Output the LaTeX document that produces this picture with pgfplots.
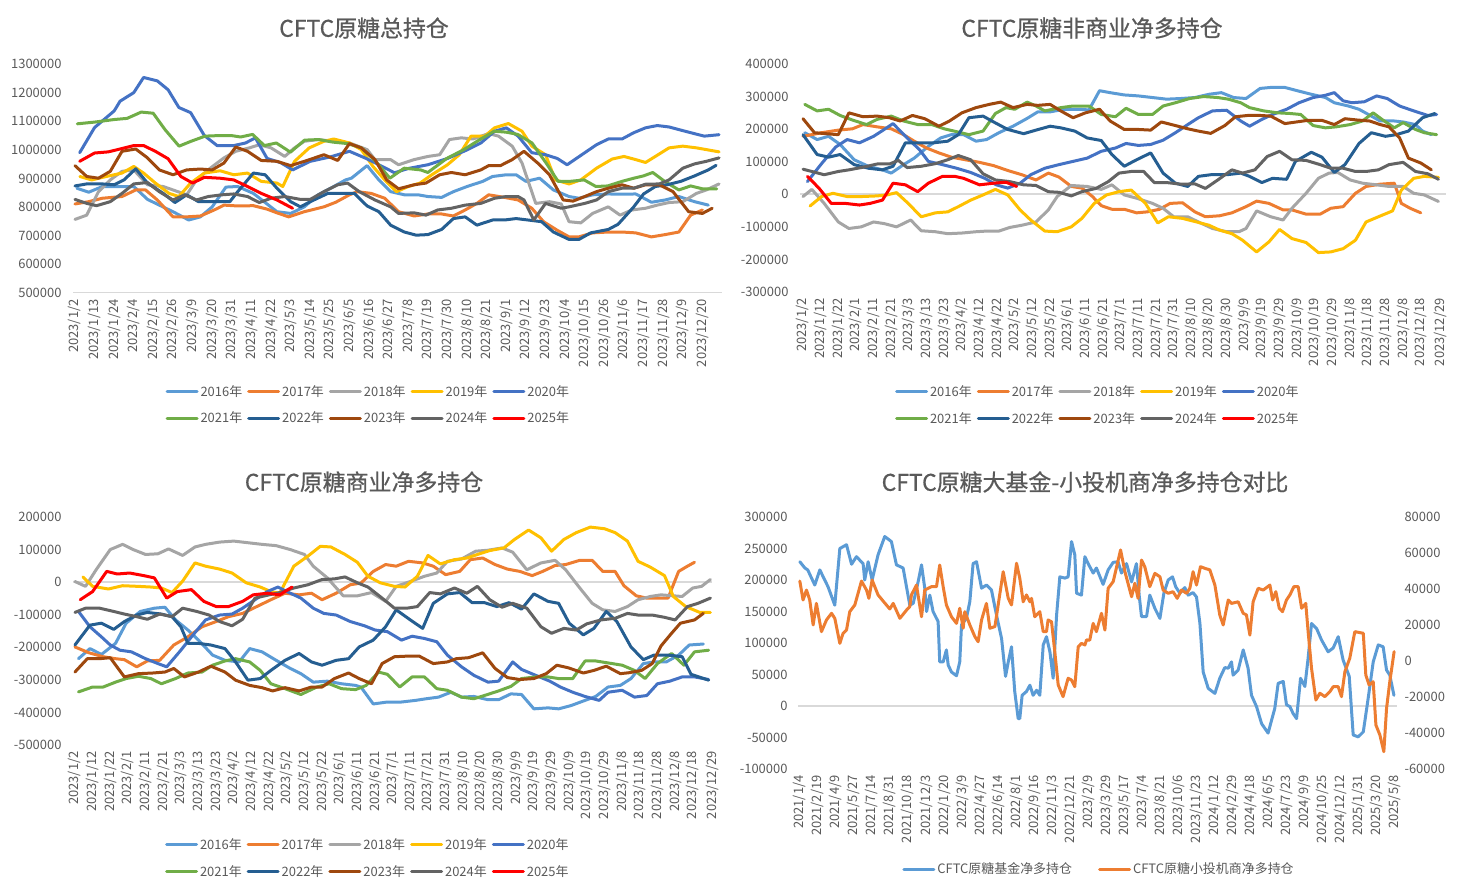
\documentclass[border=0pt]{standalone}
\usepackage{fontspec}
\setmainfont{Noto Sans CJK SC}
\newfontfamily\titlefont[FakeBold=0.6]{Noto Sans CJK SC}
\usepackage{pgfplots}
\pgfplotsset{compat=1.18}

\definecolor{c16}{HTML}{5B9BD5}
\definecolor{c17}{HTML}{ED7D31}
\definecolor{c18}{HTML}{A5A5A5}
\definecolor{c19}{HTML}{FFC000}
\definecolor{c20}{HTML}{4472C4}
\definecolor{c21}{HTML}{70AD47}
\definecolor{c22}{HTML}{255E91}
\definecolor{c23}{HTML}{9E480E}
\definecolor{c24}{HTML}{636363}
\definecolor{c25}{HTML}{FF0000}
\definecolor{txt}{HTML}{595959}
\definecolor{zl}{HTML}{D9D9D9}

\pgfplotsset{
  panel/.style={
    scale only axis,
    axis line style={draw=none},
    major tick length=0pt,
    tick style={draw=none},
    ticklabel style={font=\fontsize{13}{15}\selectfont, text=txt},
    /pgf/number format/assume math mode=true,
    xticklabel style={rotate=90, anchor=east},
    xticklabel shift=3bp,
    yticklabel shift=8bp,
    legend style={draw=none, fill=none, font=\fontsize{13}{15}\selectfont, text=txt,
      nodes={inner sep=2bp}, row sep=10bp,
      /tikz/every even column/.append style={column sep=3bp}},
    legend cell align=left,
    legend image code/.code={\draw[##1] (0bp,0bp) -- (30bp,0bp);},
    every axis plot/.append style={line width=3bp, line join=round, line cap=round, mark=none},
  },
  yr/.style={legend columns=5},
}

\begin{document}
\begin{tikzpicture}
\useasboundingbox (0,0) rectangle (1460bp,893bp);

\node[font=\titlefont\fontsize{23}{27}\selectfont, text=txt] at (364bp,865bp) {CFTC原糖总持仓};
\node[font=\titlefont\fontsize{23}{27}\selectfont, text=txt] at (1092bp,865bp) {CFTC原糖非商业净多持仓};
\node[font=\titlefont\fontsize{23}{27}\selectfont, text=txt] at (364bp,411bp) {CFTC原糖商业净多持仓};
\node[font=\titlefont\fontsize{23}{27}\selectfont, text=txt] at (1085bp,411bp) {CFTC原糖大基金-小投机商净多持仓对比};

% ---------- panel 1: total open interest ----------
\begin{axis}[panel, yr,
  at={(73bp,600bp)}, width=649bp, height=229bp,
  xmin=-0.1, xmax=33, ymin=500, ymax=1300,
  xtick={0,1,...,32},
  xticklabels={2023/1/2,2023/1/13,2023/1/24,2023/2/4,2023/2/15,2023/2/26,2023/3/9,2023/3/20,2023/3/31,2023/4/11,2023/4/22,2023/5/3,2023/5/14,2023/5/25,2023/6/5,2023/6/16,2023/6/27,2023/7/8,2023/7/19,2023/7/30,2023/8/10,2023/8/21,2023/9/1,2023/9/12,2023/9/23,2023/10/4,2023/10/15,2023/10/26,2023/11/6,2023/11/17,2023/11/28,2023/12/9,2023/12/20},
  ytick={500,600,...,1300},
  yticklabels={500000,600000,700000,800000,900000,1000000,1100000,1200000,1300000},
  legend style={at={(0.455,-0.489)}, anchor=center},
]
\draw[zl, line width=2bp] (axis cs:-0.1,500) -- (axis cs:33,500);
\addplot[c16] coordinates {(0.1,866)(0.7,852)(1.4,872)(2.3,872)(3,872)(3.7,827)(4.3,807)(5,784)(5.8,755)(6.4,766)(7,801)(7.7,870)(8.3,872)(9.1,848)(9.7,816)(10.3,784)(11,778)(11.7,801)(12.4,843)(13.2,872)(13.8,895)(14.1,901)(14.9,945)(15.5,895)(16.1,854)(16.8,843)(17.5,843)(18,837)(18.7,834)(19.3,854)(20,872)(20.8,890)(21.3,907)(22,913)(22.5,913)(23,890)(23.7,901)(24.4,860)(25.2,837)(25.7,831)(26.4,843)(27.2,846)(27.9,845)(28.6,846)(29.4,817)(30.1,825)(30.8,837)(31.6,819)(32.3,807)};
\addplot[c17] coordinates {(0,811)(0.7,819)(1.4,831)(2.4,837)(3.1,860)(3.6,860)(4.2,825)(5,766)(5.7,766)(6.4,769)(7.1,790)(7.6,807)(8.3,804)(9.1,805)(9.8,793)(10.3,780)(10.9,766)(11.7,784)(12.7,801)(13.3,817)(14,843)(14.4,854)(15.1,848)(15.8,831)(16.5,784)(17.3,769)(18,776)(18.7,776)(19.3,769)(19.9,790)(20.5,813)(21.1,843)(21.9,834)(22.6,825)(23.3,796)(23.9,749)(24.6,719)(25.2,696)(25.7,696)(26.4,710)(27.2,713)(27.9,713)(28.6,710)(29.4,696)(30.1,704)(30.8,713)(31.4,772)(32,790)};
\addplot[c18] coordinates {(0,757)(0.6,772)(1.2,854)(1.8,895)(2.4,925)(3,930)(3.7,878)(4.5,872)(5,860)(5.7,843)(6.2,895)(6.9,936)(7.6,972)(8.2,995)(8.9,1007)(9.4,1018)(10,1007)(10.7,977)(11.2,1007)(11.7,1030)(12.4,1036)(13.2,1030)(14,1024)(14.9,1001)(15.3,966)(16.1,966)(16.5,948)(17.3,966)(18,977)(18.6,983)(19.1,1036)(19.7,1042)(20.3,1038)(21.1,1057)(21.6,1048)(22.3,1013)(22.8,954)(23.5,813)(24.2,819)(24.8,811)(25.2,749)(25.8,745)(26.4,778)(27.2,801)(27.8,772)(28.4,790)(29.1,796)(29.7,807)(30.3,816)(31,819)(31.7,848)(32.2,860)(32.85,881)};
\addplot[c19] coordinates {(0.25,907)(0.85,895)(1.6,907)(2.4,919)(3,942)(3.5,919)(4.1,884)(4.8,848)(5.3,837)(5.9,884)(6.6,919)(7.4,927)(8.1,913)(8.8,919)(9.5,890)(10.3,884)(10.6,872)(11.2,960)(11.95,1007)(12.7,1030)(13.2,1038)(14,1024)(14.6,1001)(15.2,942)(15.8,895)(16.4,854)(17,872)(17.6,884)(18.2,913)(19,948)(19.6,983)(20.2,1048)(20.9,1048)(21.4,1077)(22.1,1092)(22.8,1065)(23.3,1013)(24,983)(24.5,895)(25.2,881)(25.8,895)(26.6,936)(27.4,968)(28,977)(28.6,966)(29.1,956)(29.6,977)(30.3,1007)(31,1013)(31.7,1007)(32.85,993)};
\addplot[c20] coordinates {(0.24,990)(1,1078)(2,1136)(2.3,1170)(3,1200)(3.5,1253)(4.2,1241)(4.75,1210)(5.3,1148)(5.9,1130)(6.6,1050)(7.25,1015)(8.1,1015)(8.7,1024)(9.2,1042)(9.8,970)(10.5,955)(11.1,930)(12,960)(13,975)(14,995)(14.85,970)(15.3,955)(16.3,920)(17,935)(18,948)(19,970)(20,1000)(20.7,1024)(21.4,1065)(22,1077)(22.6,1048)(23.3,990)(24,983)(24.6,970)(25.1,948)(26,990)(26.6,1018)(27.2,1038)(27.9,1038)(28.5,1060)(29.1,1077)(29.7,1085)(30.3,1080)(30.9,1069)(31.8,1053)(32.1,1048)(32.85,1053)};
\addplot[c21] coordinates {(0.12,1091)(1,1097)(2,1106)(2.66,1110)(3.38,1132)(3.99,1128)(4.59,1071)(5.31,1013)(5.92,1030)(6.64,1048)(7.37,1050)(7.97,1050)(8.45,1045)(9.06,1054)(9.66,1015)(10.27,1024)(10.99,992)(11.71,1034)(12.44,1036)(13.16,1027)(13.89,1022)(14.61,1007)(15.34,960)(16.06,901)(16.79,936)(17.63,930)(18,921)(18.96,970)(19.81,1000)(20.65,1036)(21.38,1065)(21.98,1062)(22.58,1054)(23.31,1024)(24.03,954)(24.64,890)(25.24,890)(25.97,895)(26.57,872)(27.17,874)(27.9,890)(28.5,901)(28.99,909)(29.47,921)(30.07,890)(30.8,860)(31.4,874)(32,864)(32.73,864)};
\addplot[c22] coordinates {(0,874)(0.6,881)(1.4,881)(2,878)(2.5,895)(3.1,934)(3.7,884)(4.5,848)(5.1,816)(5.7,843)(6.3,819)(7.1,819)(7.9,819)(8.3,854)(9.1,919)(9.7,913)(10.3,866)(11,819)(11.5,801)(12,819)(12.9,848)(13.9,848)(14.25,848)(14.9,804)(15.5,784)(16.1,737)(16.8,713)(17.4,702)(18,704)(18.7,722)(19.3,760)(19.9,766)(20.5,737)(21.3,755)(21.9,755)(22.5,760)(23.1,755)(23.8,749)(24.4,713)(25.2,687)(25.7,687)(26.3,710)(27.2,722)(27.7,740)(28.5,801)(29,846)(29.6,872)(30.2,878)(30.9,890)(31.6,909)(32.3,930)(32.7,946)};
\addplot[c23] coordinates {(0,945)(0.6,907)(1.2,901)(1.8,925)(2.4,995)(3.1,1003)(3.7,972)(4.3,930)(5,913)(5.7,930)(6.4,933)(7,930)(7.6,954)(8.2,1010)(8.8,995)(9.5,963)(10.3,960)(11,945)(11.7,960)(12.7,983)(13.4,963)(14,1022)(14.6,1007)(15.3,966)(15.9,895)(16.5,864)(17.3,878)(17.9,884)(18.6,913)(19.2,921)(19.9,913)(20.7,930)(21.1,945)(21.7,945)(22.3,966)(22.9,995)(23.6,954)(24.2,913)(24.9,825)(25.4,821)(26,837)(26.6,854)(27.2,866)(27.9,878)(28.5,866)(29.1,878)(29.8,878)(30.5,854)(31.3,784)(32,778)(32.5,796)};
\addplot[c24] coordinates {(0,827)(0.6,813)(1.1,805)(1.8,819)(2.4,848)(3,881)(3.7,886)(4.3,854)(5,825)(5.6,843)(6.2,825)(6.8,837)(7.5,843)(8.1,846)(8.8,837)(9.4,816)(10,831)(10.7,837)(11.5,827)(12,827)(12.7,854)(13.4,878)(13.9,884)(14.5,854)(15.3,825)(16.1,801)(16.5,778)(17.3,780)(17.9,772)(18.5,790)(19.2,796)(19.9,807)(20.7,813)(21.4,831)(22,837)(22.6,837)(22.9,825)(23.4,755)(24,813)(24.8,796)(25.2,801)(26,813)(26.6,825)(27.2,854)(27.9,866)(28.5,866)(29.1,880)(29.8,881)(30.3,895)(31,936)(31.6,951)(32.2,960)(32.85,972)};
\addplot[c25] coordinates {(0.24,960)(1,989)(1.7,993)(2.3,1003)(3,1015)(3.5,1015)(4.1,995)(4.75,969)(5.4,907)(6,884)(6.6,904)(7.4,901)(8.1,895)(8.8,872)(9.5,848)(10.3,825)(11.1,796)};
\legend{2016年,2017年,2018年,2019年,2020年,2021年,2022年,2023年,2024年,2025年}
\end{axis}

% ---------- panel 2: non-commercial net long ----------
\begin{axis}[panel, yr,
  at={(800bp,601bp)}, width=646bp, height=228bp,
  xmin=-0.17, xmax=36.43, ymin=-300, ymax=400,
  xtick={0,1,...,35,36.1},
  xticklabels={2023/1/2,2023/1/12,2023/1/22,2023/2/1,2023/2/11,2023/2/21,2023/3/3,2023/3/13,2023/3/23,2023/4/2,2023/4/12,2023/4/22,2023/5/2,2023/5/12,2023/5/22,2023/6/1,2023/6/11,2023/6/21,2023/7/1,2023/7/11,2023/7/21,2023/7/31,2023/8/10,2023/8/20,2023/8/30,2023/9/9,2023/9/19,2023/9/29,2023/10/9,2023/10/19,2023/10/29,2023/11/8,2023/11/18,2023/11/28,2023/12/8,2023/12/18,2023/12/29},
  ytick={-300,-200,...,400},
  yticklabels={-300000,-200000,-100000,0,100000,200000,300000,400000},
  legend style={at={(0.461,-0.496)}, anchor=center},
]
\draw[zl, line width=2bp] (axis cs:-0.17,0) -- (axis cs:36.43,0);
\addplot[c16] coordinates {(0.1,189)(0.8,168)(1.45,178)(2.1,153)(2.9,106)(3.7,86)(4.5,75)(5,65)(5.7,91)(6.3,111)(7.1,147)(7.8,173)(8.4,183)(9.1,183)(9.8,163)(10.4,168)(11.1,189)(11.9,209)(12.7,233)(13.3,253)(14,253)(14.8,261)(15.6,261)(16.2,259)(16.8,318)(17.4,312)(18.2,305)(19,302)(19.8,297)(20.6,292)(21.4,294)(22.2,297)(23,307)(23.7,312)(24.4,297)(25.1,294)(25.9,325)(26.5,328)(27.3,328)(28,318)(28.8,307)(29.6,297)(30.1,281)(30.9,271)(31.5,261)(32.2,240)(32.7,225)(33.5,225)(34,222)(34.7,214)(35.1,194)(35.6,183)};
\addplot[c17] coordinates {(0,178)(1.05,189)(2,197)(2.8,201)(3.4,214)(4.2,207)(5,201)(5.7,183)(6.3,163)(7,142)(7.7,127)(8.4,114)(9.2,106)(10,98)(10.8,88)(11.6,73)(12.4,60)(13.2,44)(13.9,65)(14.5,53)(15.2,24)(15.8,19)(16.4,-7)(16.9,-35)(17.5,-46)(18.2,-46)(18.9,-57)(19.5,-54)(20.2,-46)(20.8,-28)(21.5,-26)(22.2,-54)(22.8,-69)(23.6,-66)(24.3,-57)(25.1,-38)(25.7,-21)(26.4,-28)(27.2,-48)(27.7,-48)(28.5,-61)(29.3,-61)(29.9,-43)(30.6,-38)(31.3,3)(31.9,24)(32.7,31)(33.5,34)(33.9,-28)(34.4,-43)(35,-57)};
\addplot[c18] coordinates {(0,-7)(0.5,15)(1.2,-28)(2,-85)(2.6,-105)(3.3,-100)(4,-85)(4.6,-90)(5.3,-100)(6.1,-79)(6.7,-112)(7.5,-115)(8.2,-121)(9,-119)(9.8,-115)(10.4,-113)(11.1,-113)(11.7,-102)(12.4,-95)(13.2,-85)(13.9,-48)(14.4,-7)(15.2,27)(16.1,24)(16.9,15)(17.5,29)(18.2,-2)(18.9,-12)(19.8,-28)(20.4,-43)(21,-69)(21.8,-69)(22.4,-85)(23.2,-105)(24,-115)(24.7,-115)(25.1,-105)(25.7,-51)(26.5,-69)(27.2,-79)(27.7,-43)(28.5,3)(29.2,49)(29.8,65)(30.3,67)(31,44)(31.7,34)(32.5,29)(33.2,24)(34,24)(34.6,3)(35.2,-2)(36,-22)};
\addplot[c19] coordinates {(0.4,-36)(1.05,-7)(1.7,3)(2.5,-7)(3.3,-7)(4.2,-5)(4.75,-2)(5.3,5)(5.9,-25)(6.7,-69)(7.5,-57)(8.2,-54)(8.8,-38)(9.5,-18)(10.2,-2)(10.9,15)(11.6,-2)(12.3,-48)(12.9,-79)(13.7,-113)(14.4,-115)(15.2,-100)(15.8,-74)(16.5,-28)(17.2,-2)(17.9,8)(18.6,13)(19.4,-28)(20.1,-88)(20.7,-69)(21.5,-74)(22.3,-85)(23,-95)(23.6,-110)(24.3,-121)(24.9,-141)(25.7,-177)(26.4,-146)(27,-108)(27.7,-136)(28.5,-148)(29.2,-179)(29.9,-177)(30.6,-167)(31.3,-141)(31.9,-85)(32.6,-69)(33.4,-51)(33.9,13)(34.6,49)(35.2,55)(36,52)};
\addplot[c20] coordinates {(0.25,39)(1.05,94)(1.85,145)(2.5,168)(3.2,158)(4,178)(4.6,199)(5.1,217)(5.9,173)(6.6,137)(7.1,101)(7.9,91)(8.7,80)(9.5,67)(10.3,49)(10.95,29)(11.6,19)(12.3,34)(12.9,60)(13.7,80)(14.5,91)(15.3,101)(16.1,111)(16.9,132)(17.7,142)(18.3,156)(19,150)(19.7,153)(20.4,166)(21.1,189)(21.8,214)(22.4,235)(23.2,256)(24,258)(24.8,225)(25.3,209)(26,230)(26.6,245)(27.4,261)(28.1,281)(28.9,297)(29.6,304)(30.1,312)(30.6,287)(31.1,281)(31.8,284)(32.5,302)(33.1,294)(33.8,271)(34.6,256)(35.4,242)(35.9,245)};
\addplot[c21] coordinates {(0.1,276)(0.8,256)(1.45,261)(2.1,242)(2.8,228)(3.6,214)(4.2,230)(5,240)(5.7,225)(6.5,214)(7.3,214)(8,201)(8.8,191)(9.4,183)(10.2,194)(10.9,248)(11.5,266)(12,261)(12.7,283)(13.2,271)(13.7,256)(14.6,266)(15.3,271)(16.2,271)(16.9,245)(17.7,238)(18.3,264)(19,245)(19.8,245)(20.4,271)(21.1,281)(21.9,294)(22.7,300)(23.5,297)(24.1,292)(24.8,281)(25.3,266)(26.1,256)(26.9,250)(27.6,248)(28.2,245)(28.9,211)(29.6,204)(30.2,207)(31,214)(31.7,225)(32.3,250)(32.8,230)(33.5,204)(34,220)(34.7,199)(35.2,189)(35.9,183)};
\addplot[c22] coordinates {(0,183)(0.8,122)(1.45,114)(2.1,122)(2.9,91)(3.7,80)(4.5,75)(5.1,86)(5.8,158)(6.6,158)(7.4,158)(8.2,163)(8.8,183)(9.4,235)(10.2,240)(10.8,222)(11.6,199)(12.5,186)(13.2,197)(14,209)(14.6,204)(15.4,194)(16.1,173)(16.9,165)(17.5,122)(18.2,86)(18.9,106)(19.7,127)(20.4,65)(21.1,34)(21.8,24)(22.4,55)(23.1,60)(24,60)(24.8,65)(25.3,55)(26,36)(26.6,49)(27.4,46)(27.9,101)(28.8,129)(29.4,114)(30.1,67)(30.7,91)(31.5,156)(32.2,189)(33,178)(33.6,183)(34.3,194)(35.1,235)(35.8,248)};
\addplot[c23] coordinates {(0,232)(0.65,189)(1.3,186)(2,183)(2.6,250)(3.4,238)(4.2,240)(4.9,235)(5.5,225)(6.2,242)(6.9,232)(7.7,209)(8.3,225)(9,250)(9.8,266)(10.55,276)(11.2,283)(11.9,266)(12.7,276)(13.3,273)(14,276)(14.6,256)(15.3,235)(16,250)(16.8,261)(17.4,225)(18.2,199)(19,199)(19.7,197)(20.3,222)(21.1,211)(21.8,201)(22.4,194)(23.1,187)(23.9,211)(24.5,238)(25.2,242)(25.9,242)(26.5,240)(27.3,217)(27.95,222)(28.6,227)(29.4,227)(30.1,214)(30.7,232)(31.4,228)(32.1,225)(32.7,214)(33.2,207)(33.8,173)(34.3,111)(35,96)(35.6,75)};
\addplot[c24] coordinates {(0,77)(0.5,70)(1.2,60)(2,70)(2.6,75)(3.4,83)(4.2,93)(4.9,93)(5.4,104)(5.9,82)(6.7,86)(7.5,94)(8.2,106)(8.8,119)(9.5,106)(10.2,63)(10.9,44)(11.7,39)(12.5,29)(13.2,27)(13.9,8)(14.5,6)(15.2,-5)(15.8,8)(16.6,18)(17.3,39)(17.9,65)(18.6,70)(19.3,70)(19.9,36)(20.6,36)(21.4,31)(22.2,32)(22.8,18)(23.5,44)(24.3,75)(24.9,65)(25.6,75)(26.3,116)(27,132)(27.7,106)(28.5,104)(29.3,91)(29.9,80)(30.6,80)(31.3,70)(31.9,70)(32.6,75)(33.2,91)(34,98)(34.7,70)(35.4,63)(36,46)};
\addplot[c25] coordinates {(0.25,55)(0.9,19)(1.6,-28)(2.4,-28)(3.2,-33)(3.8,-28)(4.5,-18)(5.1,34)(5.8,29)(6.5,8)(7.1,34)(7.9,55)(8.6,55)(9.1,49)(10,29)(10.8,34)(11.5,37)(12.1,24)};
\legend{2016年,2017年,2018年,2019年,2020年,2021年,2022年,2023年,2024年,2025年}
\end{axis}

% ---------- panel 3: commercial net long ----------
\begin{axis}[panel, yr,
  at={(73bp,148bp)}, width=645bp, height=228bp,
  xmin=-0.11, xmax=36.43, ymin=-500, ymax=200,
  xtick={0,1,...,35,36.1},
  xticklabels={2023/1/2,2023/1/12,2023/1/22,2023/2/1,2023/2/11,2023/2/21,2023/3/3,2023/3/13,2023/3/23,2023/4/2,2023/4/12,2023/4/22,2023/5/2,2023/5/12,2023/5/22,2023/6/1,2023/6/11,2023/6/21,2023/7/1,2023/7/11,2023/7/21,2023/7/31,2023/8/10,2023/8/20,2023/8/30,2023/9/9,2023/9/19,2023/9/29,2023/10/9,2023/10/19,2023/10/29,2023/11/8,2023/11/18,2023/11/28,2023/12/8,2023/12/18,2023/12/29},
  ytick={-500,-400,...,200},
  yticklabels={-500000,-400000,-300000,-200000,-100000,0,100000,200000},
  legend style={at={(0.457,-0.496)}, anchor=center},
]
\draw[zl, line width=2bp] (axis cs:-0.11,0) -- (axis cs:36.1,0);
\addplot[c16] coordinates {(0.2,-235)(0.85,-204)(1.5,-222)(2.3,-188)(2.9,-126)(3.7,-90)(4.5,-80)(5.1,-77)(5.7,-116)(6.4,-147)(7,-178)(7.8,-224)(8.5,-240)(9.3,-245)(9.9,-204)(10.6,-214)(11.4,-240)(12.2,-265)(12.8,-281)(13.5,-307)(14.3,-304)(15.1,-312)(15.9,-317)(16.2,-322)(16.9,-374)(17.7,-368)(18.5,-368)(19.3,-363)(19.9,-358)(20.6,-353)(21.3,-338)(21.9,-353)(22.6,-351)(23.4,-361)(24,-361)(24.7,-343)(25.3,-345)(26,-389)(26.8,-386)(27.4,-389)(28.1,-379)(28.9,-363)(29.5,-351)(30.2,-322)(30.9,-317)(31.5,-296)(32.2,-250)(32.8,-245)(33.5,-245)(34.2,-224)(34.8,-193)(35.6,-190)};
\addplot[c17] coordinates {(0,-199)(0.8,-217)(1.6,-229)(2.3,-235)(2.8,-238)(3.5,-260)(4.1,-242)(4.8,-240)(5.6,-193)(6.4,-168)(7.2,-137)(8,-121)(8.7,-106)(9.5,-96)(10.3,-75)(11.1,-54)(11.9,-34)(12.7,-39)(13.4,-34)(14,-54)(14.8,-34)(15.6,-8)(16.2,-3)(16.9,33)(17.6,54)(18.2,49)(18.9,64)(19.7,59)(20.3,49)(21,23)(21.8,33)(22.4,69)(23.1,74)(23.8,54)(24.5,40)(25.2,33)(25.9,20)(26.5,33)(27.2,51)(27.8,54)(28.6,67)(29.3,67)(29.9,33)(30.6,33)(31.1,-11)(31.8,-42)(32.4,-49)(33.1,-49)(33.6,-49)(34.2,33)(34.7,49)(35.1,61)};
\addplot[c18] coordinates {(0,2)(0.6,-13)(1.2,38)(2,100)(2.7,116)(3.3,100)(4,85)(4.7,87)(5.3,102)(6.1,82)(6.8,108)(7.4,116)(8.2,123)(9,126)(9.8,121)(10.6,116)(11.4,112)(12.2,100)(13,85)(13.5,49)(14.3,13)(15.2,-42)(16,-42)(16.8,-32)(17.6,-59)(18.2,-13)(19,2)(19.8,18)(20.5,28)(21.1,64)(21.9,71)(22.7,95)(23.4,98)(24.2,105)(24.8,92)(25.6,38)(26.4,59)(27.2,67)(27.8,38)(28.6,-18)(29.3,-65)(29.9,-85)(30.6,-90)(31.3,-75)(31.9,-54)(32.6,-44)(33.2,-39)(33.9,-42)(34.4,-44)(35,-18)(35.5,-13)(36,8)};
\addplot[c19] coordinates {(0.45,16)(1,-13)(1.9,-21)(2.7,-11)(3.6,-13)(4.3,-15)(4.9,-18)(5.5,-32)(6.1,3)(6.8,59)(7.4,49)(8.2,40)(8.9,28)(9.7,-2)(10.5,-15)(11.1,-29)(11.6,-34)(12.4,49)(13.2,80)(13.9,110)(14.5,108)(15.3,85)(16,61)(16.6,18)(17.3,-2)(18.1,-13)(18.7,-15)(19.4,18)(20,82)(20.7,56)(21.5,69)(22.2,74)(22.8,85)(23.5,97)(24.3,105)(24.9,131)(25.7,160)(26.4,136)(27,95)(27.7,131)(28.4,152)(29.2,169)(30,164)(30.6,152)(31.3,126)(31.9,64)(32.6,46)(33.4,20)(33.9,-44)(34.6,-75)(35.4,-93)(36,-93)};
\addplot[c20] coordinates {(0.2,-90)(0.85,-137)(1.5,-168)(2,-193)(2.55,-209)(3.2,-214)(4,-235)(4.7,-250)(5.2,-260)(6,-209)(6.6,-168)(7.4,-116)(8.2,-101)(8.9,-98)(9.5,-80)(10.2,-54)(10.9,-29)(11.5,-15)(12.2,-34)(12.8,-49)(13.5,-80)(14.1,-96)(14.8,-101)(15.6,-121)(16.4,-134)(17,-147)(17.7,-152)(18.5,-178)(19.1,-166)(19.8,-173)(20.5,-183)(21.1,-224)(21.9,-260)(22.6,-286)(23.4,-307)(24,-304)(24.8,-245)(25.3,-268)(26.1,-286)(26.9,-304)(27.5,-322)(28.2,-338)(28.9,-351)(29.7,-363)(30.2,-338)(31,-332)(31.7,-353)(32.4,-348)(33,-312)(33.7,-304)(34.4,-291)(35.1,-291)(35.9,-299)};
\addplot[c21] coordinates {(0.2,-337)(1,-322)(1.6,-322)(2.3,-307)(2.9,-296)(3.6,-289)(4.3,-296)(4.9,-312)(5.7,-296)(6.4,-279)(7.2,-276)(7.8,-255)(8.5,-242)(9.1,-235)(9.9,-245)(10.5,-271)(11.1,-312)(11.9,-327)(12.8,-345)(13.7,-322)(14.4,-312)(15.1,-327)(15.9,-330)(16.5,-317)(17.2,-276)(17.7,-283)(18.4,-322)(19.1,-291)(19.8,-291)(20.5,-327)(21.1,-332)(21.9,-353)(22.6,-358)(23.2,-348)(24,-334)(24.7,-320)(25.3,-296)(26.1,-291)(26.8,-291)(27.4,-296)(28.2,-296)(28.9,-242)(29.5,-242)(30.2,-248)(31,-255)(31.7,-271)(32.3,-296)(33,-250)(33.8,-219)(34.5,-255)(35.1,-214)(35.9,-209)};
\addplot[c22] coordinates {(0,-193)(0.85,-132)(1.5,-126)(2.2,-145)(2.8,-121)(3.5,-101)(4.1,-93)(4.9,-98)(5.5,-106)(6,-137)(6.4,-188)(7,-188)(7.7,-193)(8.5,-204)(9.1,-245)(9.8,-301)(10.5,-296)(11.1,-271)(11.9,-240)(12.7,-219)(13.4,-245)(14,-255)(14.8,-240)(15.5,-235)(16.1,-199)(16.9,-178)(17.6,-137)(18.2,-85)(19,-116)(19.7,-142)(20.3,-65)(21.1,-36)(21.8,-32)(22.5,-63)(23.2,-63)(23.9,-75)(24.6,-63)(25.3,-83)(26,-36)(26.8,-59)(27.4,-65)(28,-126)(28.8,-162)(29.4,-142)(30.1,-90)(30.7,-121)(31.5,-199)(32.2,-238)(32.8,-224)(33.6,-224)(34.4,-229)(34.9,-283)(35.9,-301)};
\addplot[c23] coordinates {(0,-276)(0.7,-235)(1.4,-235)(2,-232)(2.8,-291)(3.6,-281)(4.4,-279)(5.1,-276)(5.6,-265)(6.2,-291)(7,-276)(7.7,-258)(8.5,-276)(9.1,-301)(9.9,-317)(10.6,-324)(11.2,-334)(11.9,-324)(12.7,-334)(13.4,-322)(14,-322)(14.7,-296)(15.5,-279)(16.1,-296)(16.8,-312)(17.4,-250)(18.1,-229)(18.9,-227)(19.5,-227)(20.3,-250)(21.1,-245)(21.6,-235)(22.3,-232)(23.1,-217)(23.8,-265)(24.5,-293)(25.2,-299)(26,-296)(26.7,-281)(27.3,-255)(27.95,-263)(28.8,-279)(29.4,-271)(30.1,-258)(30.9,-281)(31.4,-278)(32.1,-271)(32.7,-250)(33.2,-196)(33.8,-157)(34.3,-126)(35.1,-116)(35.6,-96)};
\addplot[c24] coordinates {(0,-93)(0.6,-80)(1.4,-80)(2.2,-90)(2.8,-98)(3.5,-106)(4.1,-114)(4.8,-98)(5.5,-106)(6.1,-80)(6.9,-90)(7.6,-101)(8.2,-121)(8.9,-134)(9.5,-114)(10.2,-49)(11,-39)(11.6,-32)(12.4,-18)(13.2,-8)(14,8)(14.7,10)(15.3,16)(16,-2)(16.6,-15)(17.4,-49)(18.1,-80)(18.8,-80)(19.4,-75)(20.1,-32)(20.7,-36)(21.5,-18)(22.2,-34)(22.8,-13)(23.5,-54)(24.2,-77)(24.8,-65)(25.6,-80)(26.4,-137)(27,-157)(27.7,-142)(28.4,-147)(29,-128)(29.8,-116)(30.6,-111)(31.3,-96)(31.9,-101)(32.7,-101)(33.4,-108)(34,-116)(34.7,-75)(35.3,-65)(36,-49)};
\addplot[c25] coordinates {(0.3,-54)(1,-29)(1.8,33)(2.4,25)(3.1,28)(3.9,20)(4.5,13)(5.2,-49)(5.8,-29)(6.6,-23)(7.3,-59)(8,-75)(8.7,-75)(9.5,-59)(10.1,-39)(10.9,-34)(11.6,-39)(12.3,-15)};
\legend{2016年,2017年,2018年,2019年,2020年,2021年,2022年,2023年,2024年,2025年}
\end{axis}

% ---------- panel 4: managed money vs small speculators ----------
\begin{axis}[panel,
  at={(798bp,124bp)}, width=599bp, height=252bp,
  xmin=-0.1, xmax=33.12, ymin=-100, ymax=300,
  yticklabel shift=7bp,
  xtick={0,1,...,33},
  xticklabels={2021/1/4,2021/2/19,2021/4/9,2021/5/27,2021/7/14,2021/8/31,2021/10/18,2021/12/3,2022/1/20,2022/3/9,2022/4/27,2022/6/14,2022/8/1,2022/9/16,2022/11/3,2022/12/21,2023/2/9,2023/3/29,2023/5/17,2023/7/4,2023/8/21,2023/10/6,2023/11/23,2024/1/12,2024/2/29,2024/4/18,2024/6/5,2024/7/23,2024/9/9,2024/10/25,2024/12/12,2025/1/31,2025/3/20,2025/5/8},
  ytick={-100,-50,...,300},
  yticklabels={-100000,-50000,0,50000,100000,150000,200000,250000,300000},
]
\draw[zl, line width=2bp] (axis cs:-0.1,0) -- (axis cs:33.12,0);
\addplot[c16] coordinates {(0,229)(0.28,219)(0.44,216)(0.83,192)(1.11,216)(1.57,189)(1.94,160)(2.22,250)(2.59,256)(2.87,225)(3.14,237)(3.51,226)(3.6,200)(3.79,229)(4.01,200)(4.34,240)(4.71,269)(5.08,261)(5.36,224)(5.73,219)(6.1,160)(6.29,163)(6.56,197)(6.75,224)(6.93,187)(7.03,150)(7.21,176)(7.39,150)(7.67,134)(7.76,70)(7.95,70)(8.13,89)(8.23,65)(8.41,54)(8.69,48)(8.87,70)(8.97,129)(9.24,139)(9.43,166)(9.61,226)(9.8,229)(10.08,187)(10.35,192)(10.63,184)(10.91,144)(11.19,107)(11.41,47)(11.56,70)(11.74,94)(11.92,23)(12.11,-20)(12.2,-20)(12.33,17)(12.57,23)(12.76,33)(12.94,17)(13.13,25)(13.31,17)(13.5,97)(13.68,110)(13.87,86)(14.05,44)(14.24,144)(14.42,205)(14.7,203)(14.88,205)(15.07,261)(15.25,240)(15.35,179)(15.62,176)(15.81,237)(15.99,226)(16.27,211)(16.45,219)(16.82,193)(17.1,216)(17.38,228)(17.65,229)(17.84,211)(18.12,226)(18.4,197)(18.67,226)(18.82,176)(18.95,142)(19.23,142)(19.41,176)(19.69,155)(19.97,139)(20.19,179)(20.43,200)(20.67,205)(20.85,189)(21.08,179)(21.35,188)(21.54,176)(21.81,180)(22,173)(22.19,131)(22.37,54)(22.65,28)(23.02,20)(23.29,44)(23.57,61)(23.76,60)(23.94,70)(24.03,49)(24.31,57)(24.59,89)(24.86,60)(25.05,17)(25.33,-1)(25.61,-28)(25.97,-43)(26.34,-4)(26.53,36)(26.81,39)(26.99,2)(27.18,-1)(27.36,-12)(27.55,-20)(27.77,44)(28.01,31)(28.19,76)(28.38,131)(28.66,123)(28.93,105)(29.3,86)(29.58,92)(29.86,110)(30.13,73)(30.47,47)(30.69,-46)(30.97,-49)(31.25,-41)(31.52,12)(31.8,70)(32.08,97)(32.35,94)(32.54,57)(32.72,49)(32.95,17)};
\end{axis}
\begin{axis}[panel,
  at={(798bp,124bp)}, width=599bp, height=252bp,
  xmin=-0.1, xmax=33.12, ymin=-60, ymax=80,
  hide x axis,
  yticklabel pos=right,
  yticklabel shift=4bp,
  ytick={-60,-40,...,80},
  yticklabels={-60000,-40000,-20000,0,20000,40000,60000,80000},
  legend columns=2,
  legend style={at={(0.5025,-0.397)}, anchor=center,
    /tikz/every even column/.append style={column sep=24bp}},
]
\addlegendimage{c16, line width=3bp}
\addplot[c17] coordinates {(0,44.4)(0.18,33.9)(0.37,39.4)(0.55,33.9)(0.74,20)(0.92,32)(1.2,16.3)(1.48,22.8)(1.76,26.5)(1.94,23.7)(2.22,9.8)(2.4,15.4)(2.59,17.2)(2.77,27.4)(3.05,31.1)(3.42,44.4)(3.7,39.4)(3.83,34.8)(4.01,45)(4.34,36.7)(4.62,33.3)(4.99,28.9)(5.18,32)(5.55,23.7)(5.92,28.3)(6.1,30.2)(6.19,36.7)(6.47,42.2)(6.75,24.6)(6.93,39.4)(7.3,41.3)(7.58,41.3)(7.76,53.3)(7.95,41.3)(8.13,31.1)(8.41,24.6)(8.69,20.9)(8.87,29.3)(9.06,18.2)(9.15,27.4)(9.43,20)(9.71,13.5)(9.89,10.7)(10.08,22.8)(10.35,32)(10.54,18.2)(10.82,19.1)(11,31.1)(11.28,49.6)(11.56,34.8)(11.74,31.1)(12.02,54.3)(12.2,45.9)(12.39,32.9)(12.57,36.7)(12.76,32.9)(12.85,34.8)(13.03,24.6)(13.31,27.4)(13.5,16.3)(13.68,16.3)(13.77,22.8)(13.96,21.8)(14.14,5.2)(14.33,-13.3)(14.6,-19.8)(14.88,-9.6)(15.07,-10.6)(15.25,-14.3)(15.44,7.9)(15.62,9.8)(15.81,8.9)(15.9,11.7)(16.08,11.6)(16.27,20.9)(16.45,16.3)(16.73,26.5)(16.92,17.2)(17.1,40.4)(17.38,44.1)(17.79,61.7)(18.03,49.6)(18.4,35.7)(18.58,43.2)(18.76,34.8)(18.95,56.1)(19.13,52.4)(19.41,41.3)(19.69,48.7)(19.97,46.8)(20.15,39.4)(20.43,37.6)(20.7,38.5)(20.93,34.8)(21.17,39.4)(21.45,37.6)(21.63,40.4)(21.81,49.6)(22,42.2)(22.22,52.4)(22.46,51.5)(22.74,50.6)(23.02,42.2)(23.29,25.6)(23.48,20)(23.76,33.9)(23.94,32)(24.31,32.9)(24.59,26.5)(24.77,25.6)(24.96,14.4)(25.14,32.9)(25.42,40.4)(25.7,39.4)(26.07,42.2)(26.22,33.9)(26.4,38.5)(26.59,29.3)(26.77,27.4)(26.99,33.9)(27.18,36.7)(27.4,41.3)(27.64,41.3)(27.83,29.3)(28.06,32)(28.19,16.3)(28.38,-4.1)(28.62,-21.7)(28.84,-17.9)(29.12,-19.8)(29.4,-17)(29.58,-14.3)(29.86,-14.3)(30.04,-19.8)(30.23,-5.9)(30.5,1.5)(30.78,16.3)(31.25,15.4)(31.39,-7.8)(31.57,-13.3)(31.8,-11.5)(31.95,-35.6)(32.17,-41.1)(32.39,-50.4)(32.54,-26.3)(32.72,-11.5)(32.96,5.2)};
\legend{CFTC原糖基金净多持仓,CFTC原糖小投机商净多持仓}
\end{axis}
\end{tikzpicture}
\end{document}
